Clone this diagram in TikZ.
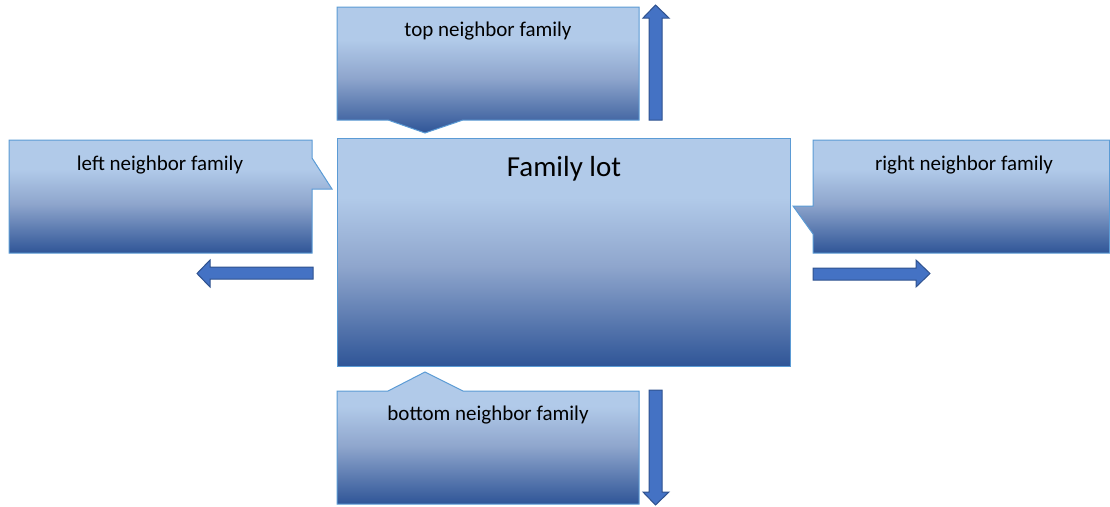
\documentclass[tikz,border=0pt]{standalone}
\usepackage{fontspec}
\setmainfont{Carlito}
\definecolor{famlight}{HTML}{B1CAE9}
\definecolor{fammid}{HTML}{8FA6CD}
\definecolor{famdark}{HTML}{2F5597}
\definecolor{famedge}{HTML}{5B9BD5}
\definecolor{arrfill}{HTML}{4472C4}
\definecolor{arredge}{HTML}{2F528F}
\pgfdeclareverticalshading{famgrad}{100bp}{color(0bp)=(famdark); color(25bp)=(famdark); color(47bp)=(fammid); color(62bp)=(famlight); color(100bp)=(famlight)}

\begin{document}
\begin{tikzpicture}[x=1pt,y=-1pt,
  famlot/.style={draw=famedge, line width=1pt, shading=famgrad},
  blockarr/.style={fill=arrfill, draw=arredge, line width=1pt},
  lbl/.style={font=\fontsize{21}{25}\selectfont, inner sep=0pt}]
\useasboundingbox (0,0) rectangle (1110,506);
\path[famlot] (337,7) -- (639,7) -- (639,120) -- (463,120) -- (425,133) -- (388,120) -- (337,120) -- cycle;
\path[famlot] (9,140) -- (312,140) -- (312,158) -- (332,189) -- (312,189) -- (312,253) -- (9,253) -- cycle;
\path[famlot] (813,140) -- (1109.5,140) -- (1109.5,253) -- (813,253) -- (813,234) -- (793,206) -- (813,206) -- cycle;
\path[famlot] (337,391) -- (388,391) -- (425,372) -- (463,391) -- (639,391) -- (639,504) -- (337,504) -- cycle;
\path[famlot] (337,138) rectangle (790,366);
\draw[blockarr] (649,120) -- (649,18) -- (643,18) -- (655.5,5) -- (669,18) -- (662,18) -- (662,120) -- cycle;
\draw[blockarr] (649,390) -- (662,390) -- (662,492) -- (669,492) -- (655.5,505) -- (643,492) -- (649,492) -- cycle;
\draw[blockarr] (313,267) -- (210,267) -- (210,260) -- (197,273.5) -- (210,287) -- (210,279) -- (313,279) -- cycle;
\draw[blockarr] (813,268) -- (916,268) -- (916,260) -- (930,273.5) -- (916,287) -- (916,280) -- (813,280) -- cycle;
\node[lbl] (toplbl) at (488,31) {top neighbor family};
\node[lbl] (leftlbl) at (160,165) {left neighbor family};
\node[lbl] (rightlbl) at (964,165) {right neighbor family};
\node[lbl] (bottomlbl) at (488,415) {bottom neighbor family};
\node[lbl, font=\fontsize{29}{34}\selectfont] (lotlbl) at (564,169) {Family lot};
\end{tikzpicture}
\end{document}
